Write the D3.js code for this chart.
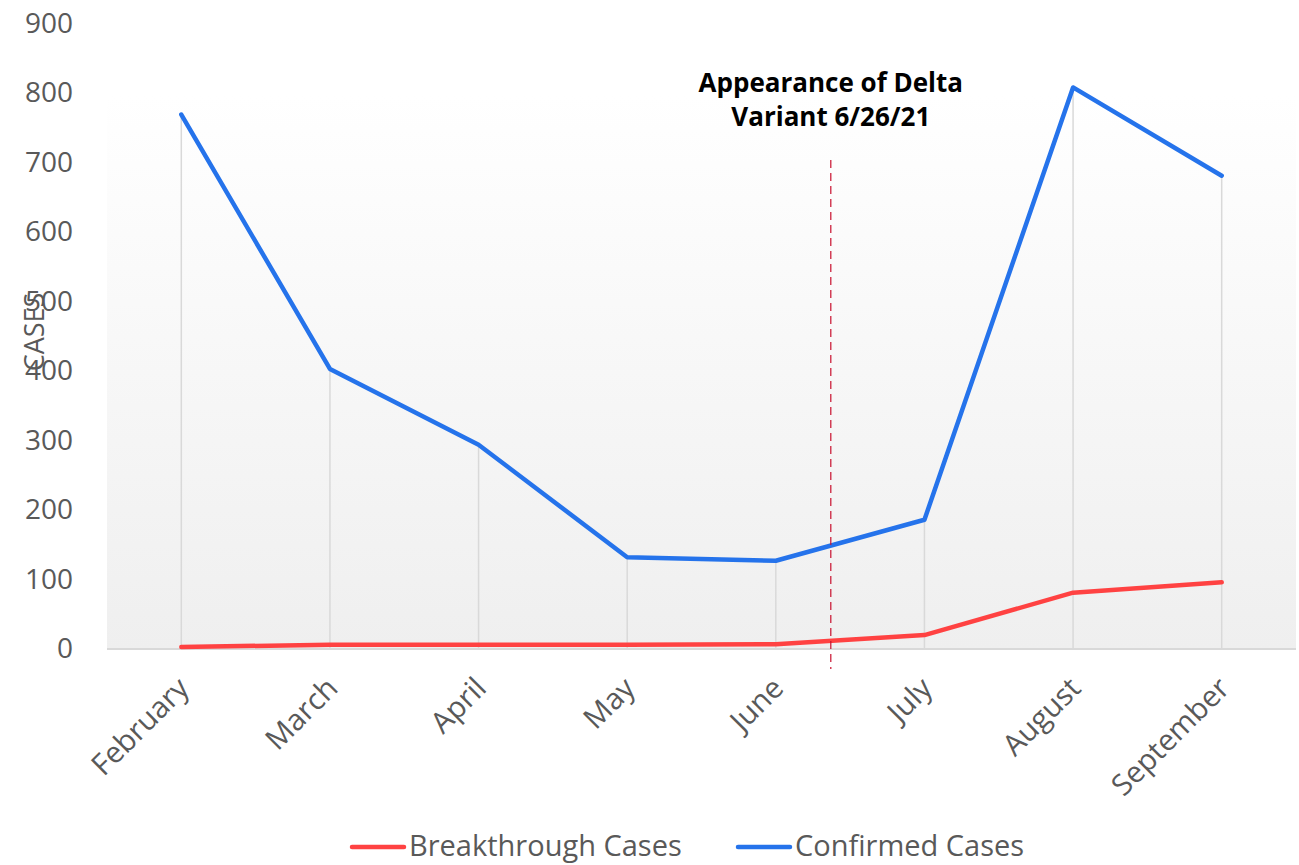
<!DOCTYPE html>
<html><head><meta charset="utf-8">
<script src="https://cdn.jsdelivr.net/npm/d3@7"></script>
<style>body{margin:0;background:#fff;}svg{display:block;font-family:"Open Sans","Noto Sans",sans-serif;}</style>
</head><body>
<svg id="c" width="1299" height="865"></svg>
<script>
const months = ["February","March","April","May","June","July","August","September"];
const breakthrough = [3, 6, 6, 6, 7, 20, 81, 96];
const confirmed = [769, 403, 294, 132, 127, 186, 808, 681];
const yTicks = [0,100,200,300,400,500,600,700,800,900];
const seriesNames = ["Breakthrough Cases","Confirmed Cases"];
const colors = ["#FF4242","#2573EB"];
const annotationLines = ["Appearance of Delta","Variant 6/26/21"];
const deltaOffset = 0.37; // fraction of a month after June

(function(){
const svg = d3.select("#c");
const pLeft = 107, pRight = 1296, pBottom = 649, pTop = 23.5, bgTop = 95;
const x = d3.scalePoint().domain(months).range([pLeft, pRight]).padding(0.5);
const y = d3.scaleLinear().domain([0, 900]).range([pBottom, pTop]);

const defs = svg.append("defs");
const g = defs.append("linearGradient").attr("id","bg").attr("x1",0).attr("y1",0).attr("x2",0).attr("y2",1);
g.append("stop").attr("offset","0%").attr("stop-color","#ffffff");
g.append("stop").attr("offset","100%").attr("stop-color","#efefef");
svg.append("rect").attr("x",pLeft).attr("y",bgTop).attr("width",pRight-pLeft).attr("height",pBottom-bgTop).attr("fill","url(#bg)");

// drop lines
svg.append("g").selectAll("line").data(months).join("line")
  .attr("x1",d=>x(d)).attr("x2",d=>x(d))
  .attr("y1",(d,i)=>y(Math.max(confirmed[i],breakthrough[i])))
  .attr("y2",y(0)).attr("stroke","#d9d9d9").attr("stroke-width",1.5);

// baseline
svg.append("line").attr("x1",pLeft).attr("x2",pRight).attr("y1",y(0)).attr("y2",y(0))
  .attr("stroke","#d9d9d9").attr("stroke-width",2);

// y axis labels
const yAxis = d3.axisLeft(y).tickValues(yTicks).tickSize(0).tickPadding(0);
const ya = svg.append("g").attr("transform","translate(73,0)").call(yAxis);
ya.select(".domain").remove();
ya.selectAll("text").attr("font-size",28).attr("fill","#595959").attr("font-family","Open Sans, Noto Sans, sans-serif");

// x axis labels
const xAxis = d3.axisBottom(x).tickSize(0).tickPadding(0);
const xa = svg.append("g").attr("transform",`translate(0,${y(0)})`).call(xAxis);
xa.select(".domain").remove();
xa.selectAll("text").attr("font-size",29.5).attr("fill","#595959").attr("font-family","Open Sans, Noto Sans, sans-serif")
  .attr("text-anchor","end").attr("dy",null).attr("y",0)
  .attr("transform","translate(9,41) rotate(-45)");

// axis title
svg.append("text").attr("transform","translate(44,332) rotate(-90)").attr("text-anchor","middle")
  .attr("font-size",27).attr("fill","#595959").text("CASES");

// lines
const line = d3.line().x((d,i)=>x(months[i])).y(d=>y(d));
[breakthrough, confirmed].forEach((s,k)=>{
  svg.append("path").datum(s).attr("d",line).attr("fill","none").attr("stroke",colors[k])
    .attr("stroke-width",4.5).attr("stroke-linejoin","round").attr("stroke-linecap","round");
});

// delta marker
const dx = x("June") + deltaOffset * x.step();
svg.append("line").attr("x1",dx).attr("x2",dx).attr("y1",160).attr("y2",669)
  .attr("stroke","#c8102e").attr("stroke-width",1.2).attr("stroke-dasharray","8,5");
const ann = svg.append("text").attr("text-anchor","middle").attr("font-size",26).attr("font-weight","bold").attr("fill","#000");
annotationLines.forEach((t,i)=>ann.append("tspan").attr("x",dx).attr("y",92+i*34).text(t));

// legend
const legX = [352, 738];
seriesNames.forEach((n,i)=>{
  svg.append("line").attr("x1",legX[i]).attr("x2",legX[i]+52).attr("y1",847).attr("y2",847)
    .attr("stroke",colors[i]).attr("stroke-width",4.5).attr("stroke-linecap","round");
  svg.append("text").attr("x",legX[i]+57).attr("y",856).attr("font-size",29).attr("fill","#595959").text(n);
});
})();
</script>
</body></html>
